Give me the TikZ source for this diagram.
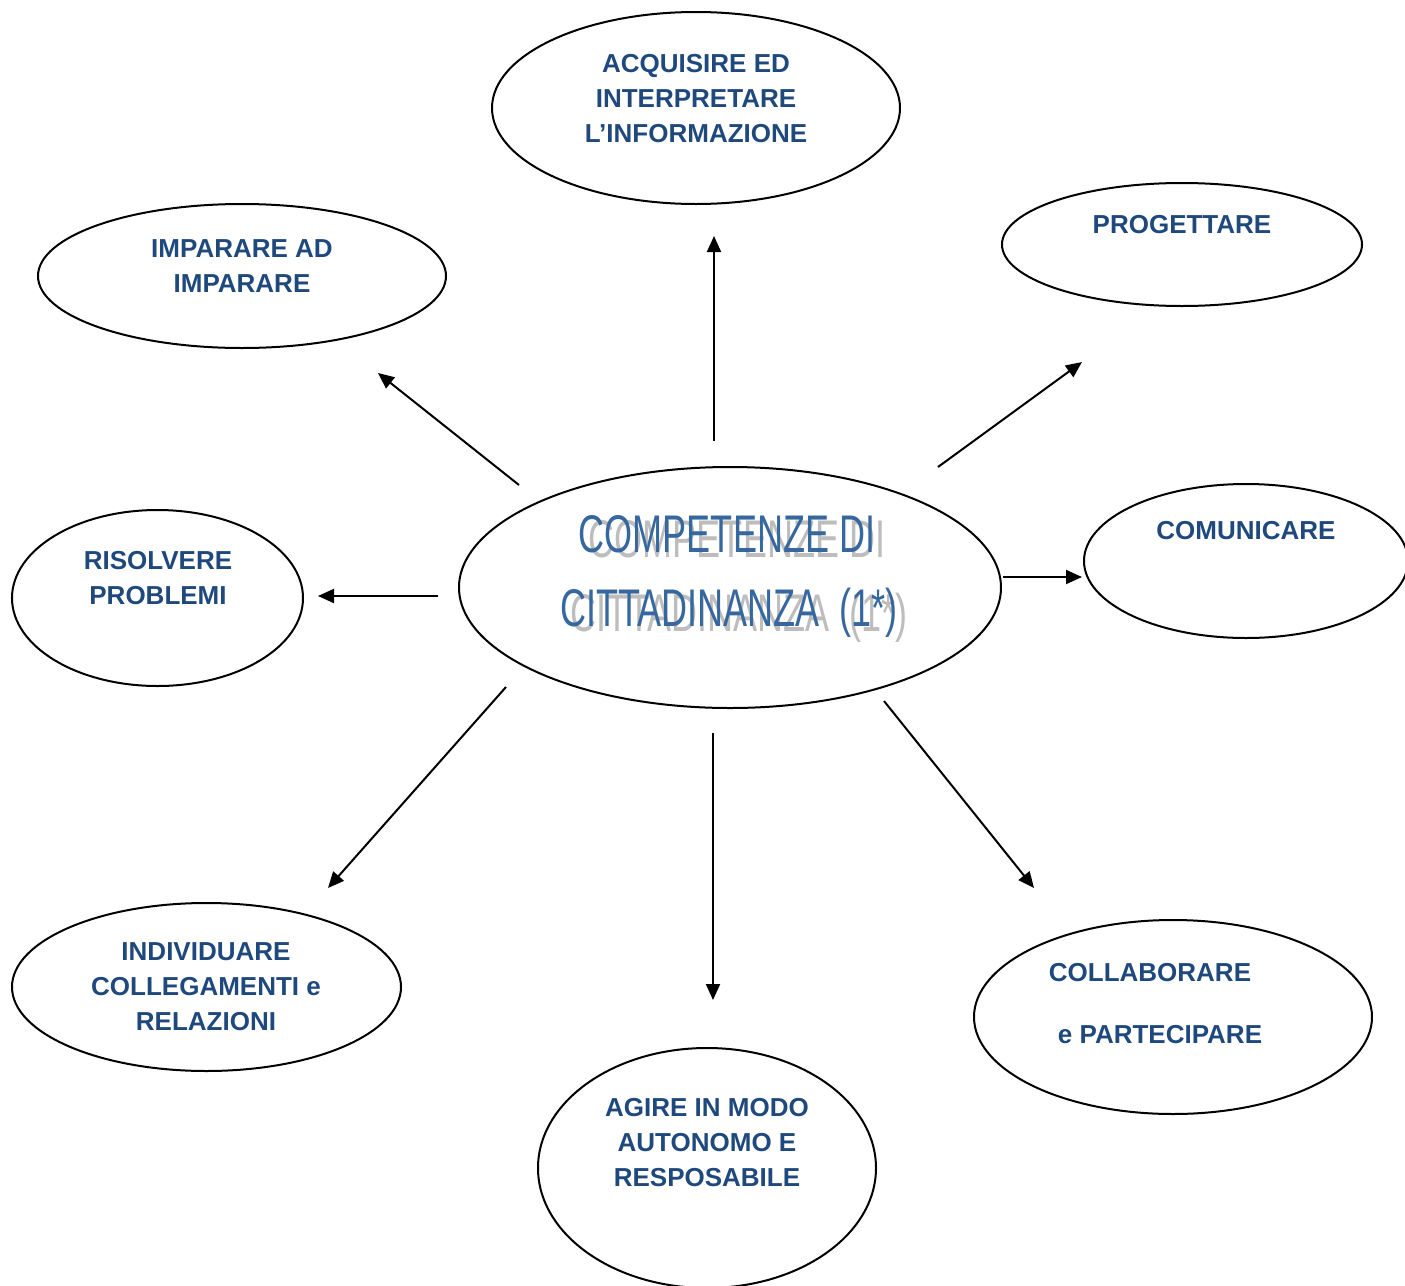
\documentclass[tikz,border=0pt]{standalone}
\usepackage{fontspec}
\setmainfont{Liberation Sans}
\usetikzlibrary{shapes.geometric,arrows.meta}
\definecolor{lblue}{HTML}{1F497D}
\definecolor{cblue}{HTML}{36689F}
\definecolor{shgray}{HTML}{BDBDBD}
\tikzset{
  ell/.style={ellipse, draw=black, line width=1pt, inner sep=0pt},
  lbl/.style={text=lblue, font=\fontsize{13}{17.5}\selectfont\bfseries, align=center},
  ctr/.style={anchor=base, font=\fontsize{26.5}{30}\selectfont},
  arr/.style={line width=1pt, -{Triangle[length=8pt,width=7pt]}}
}
\newcommand{\narrow}[1]{\scalebox{0.68}[1]{#1}}
\newcommand{\shadowtext}[1]{\rlap{\hspace{5pt}\raisebox{-2.5pt}{\textcolor{shgray}{\narrow{#1}}}}\textcolor{cblue}{\narrow{#1}}}
\begin{document}
\begin{tikzpicture}[x=0.5pt,y=-0.5pt]
\useasboundingbox (0,0) rectangle (1405,1286);
% ellipses
\node[ell, minimum width=204pt, minimum height=96pt] (eA) at (696,108) {};
\node[ell, minimum width=180pt, minimum height=61.5pt] (eP) at (1182,244.5) {};
\node[ell, minimum width=204pt, minimum height=72pt] (eI) at (242,276) {};
\node[ell, minimum width=145.5pt, minimum height=88pt] (eR) at (157.5,598) {};
\node[ell, minimum width=271pt, minimum height=120.5pt] (eC) at (730,587.5) {};
\node[ell, minimum width=162pt, minimum height=77pt] (eM) at (1246,561) {};
\node[ell, minimum width=194.5pt, minimum height=84pt] (eN) at (206.5,987) {};
\node[ell, minimum width=199pt, minimum height=97pt] (eL) at (1173,1017) {};
\node[ell, minimum width=169pt, minimum height=120pt] (eG) at (707,1168) {};
% labels
\node[lbl] (tA) at (696,99) {ACQUISIRE ED\\INTERPRETARE\\L’INFORMAZIONE};
\node[lbl] (tP) at (1182,225) {PROGETTARE};
\node[lbl] (tI) at (242,266) {IMPARARE AD\\IMPARARE};
\node[lbl] (tR) at (158,578) {RISOLVERE\\PROBLEMI};
\node[lbl] (tM) at (1246,531) {COMUNICARE};
\node[lbl] (tN) at (206,987) {INDIVIDUARE\\COLLEGAMENTI e\\RELAZIONI};
\node[lbl] (tL1) at (1150,973) {COLLABORARE};
\node[lbl] (tL2) at (1160,1035) {e PARTECIPARE};
\node[lbl] (tG) at (707,1143) {AGIRE IN MODO\\AUTONOMO E\\RESPOSABILE};
% centre text with shadow
\node[ctr] (c1) at (727,552) {\shadowtext{COMPETENZE DI}};
\node[ctr] (c2) at (729,626) {\shadowtext{CITTADINANZA\ \ (1*)}};
% arrow end points
\coordinate (a1s) at (714,441); \coordinate (a1e) at (714,236);
\coordinate (a2s) at (938,467); \coordinate (a2e) at (1082,362);
\coordinate (a3s) at (519,485); \coordinate (a3e) at (378,373);
\coordinate (a4s) at (438,596); \coordinate (a4e) at (318,596);
\coordinate (a5s) at (1003,577); \coordinate (a5e) at (1082,577);
\coordinate (a6s) at (506,687); \coordinate (a6e) at (328,888);
\coordinate (a7s) at (713,733); \coordinate (a7e) at (713,1000);
\coordinate (a8s) at (884,701); \coordinate (a8e) at (1034,888);
\foreach \i in {1,...,8} \draw[arr] (a\i s) -- (a\i e);
\end{tikzpicture}
\end{document}
